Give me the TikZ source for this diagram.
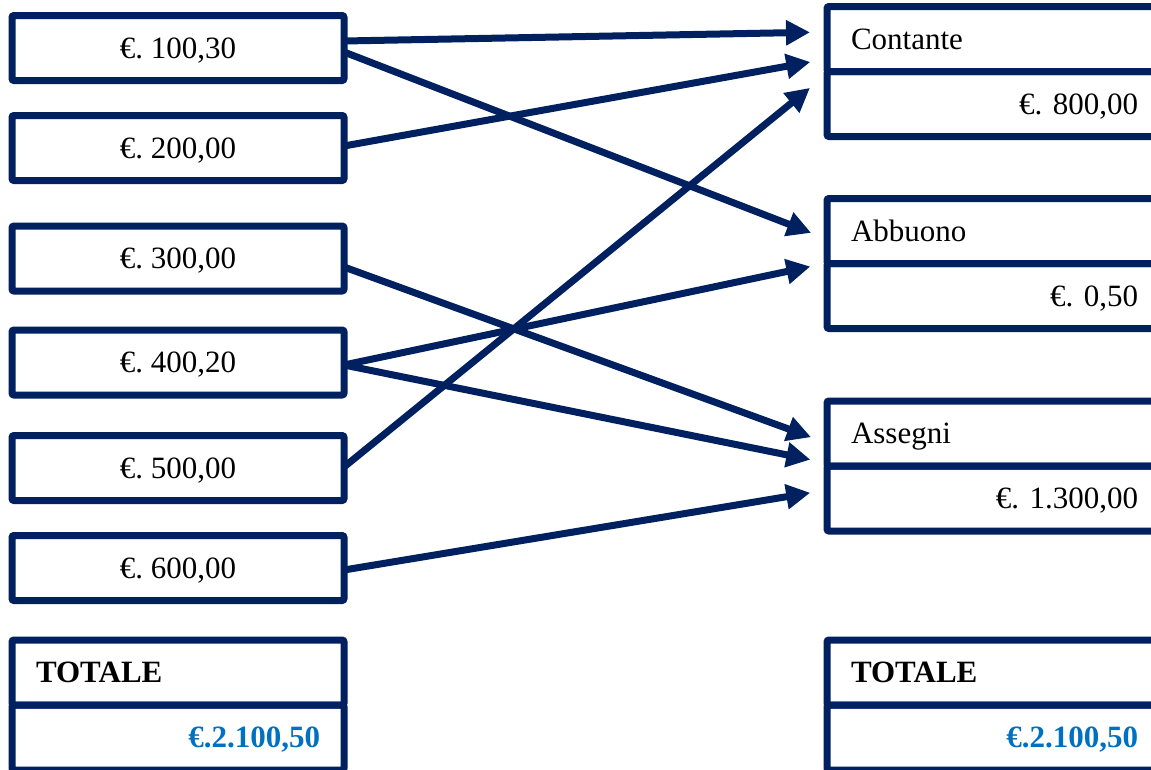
\documentclass[tikz,border=0pt]{standalone}
\usepackage{fontspec}
\setmainfont{Liberation Serif}
\usetikzlibrary{positioning,arrows.meta}
\definecolor{navy}{HTML}{002060}
\definecolor{sumblue}{HTML}{0070C0}
\frenchspacing

\tikzset{
    amount/.style={draw=navy, line width=7pt, rounded corners=2pt, outer sep=0pt,
        minimum width=332pt, minimum height=65pt, inner sep=0pt, text depth=0pt,
        font=\fontsize{31}{36}\selectfont},
    titlebox/.style={draw=navy, line width=7pt, rounded corners=2pt, outer sep=0pt,
        text width=#1, align=left, inner xsep=24pt, inner ysep=0pt, text depth=0pt,
        minimum height=65pt, font=\fontsize{31}{36}\selectfont},
    sumbox/.style={titlebox=#1, align=right},
    flow/.style={navy, line width=7pt, -{Triangle[length=24pt,width=24pt]}, shorten >=17pt},
}

\begin{document}
\begin{tikzpicture}[x=1pt,y=-1pt]

    \useasboundingbox (0,0) rectangle (1151,769);
    \clip (0,0) rectangle (1151,769);

    %left amounts
    \node[amount] (v1) at (178,48)    {€. 100,30};
    \node[amount] (v2) at (178,148)   {€. 200,00};
    \node[amount] (v3) at (178,258.5) {€. 300,00};
    \node[amount] (v4) at (178,362.5) {€. 400,20};
    \node[amount] (v5) at (178,468)   {€. 500,00};
    \node[amount] (v6) at (178,568)   {€. 600,00};

    %left total
    \node[titlebox=284pt, anchor=north west] (ltot) at (12,640) {\textbf{TOTALE}};
    \node[sumbox=284pt, below=0pt of ltot] (ltotv) {\textcolor{sumblue}{\textbf{€.2.100,50}}};

    %right accounts
    \node[titlebox=287pt, anchor=north west] (cont) at (827,6.5) {Contante};
    \node[sumbox=287pt, below=0pt of cont] (contv) {€. 800,00};

    \node[titlebox=287pt, anchor=north west] (abb) at (827,198.5) {Abbuono};
    \node[sumbox=287pt, below=0pt of abb] (abbv) {€. 0,50};

    \node[titlebox=287pt, anchor=north west] (ass) at (827,401) {Assegni};
    \node[sumbox=287pt, below=0pt of ass] (assv) {€. 1.300,00};

    %right total
    \node[titlebox=287pt, anchor=north west] (rtot) at (827,640) {\textbf{TOTALE}};
    \node[sumbox=287pt, below=0pt of rtot] (rtotv) {\textcolor{sumblue}{\textbf{€.2.100,50}}};

    %arrows
    \draw[flow] ([yshift=7pt]v1.east)    -- ([yshift=7pt]cont.west);
    \draw[flow] ([yshift=2pt]v2.east)    -- ([yshift=-20pt]cont.west);
    \draw[flow, shorten >=22pt] ([yshift=1pt]v5.east) -- ([yshift=30pt]contv.west);
    \draw[flow] ([yshift=-4pt]v1.east)   -- ([yshift=-8pt]abb.west);
    \draw[flow] ([yshift=-2.5pt]v4.east) -- ([yshift=-32pt]abb.west);
    \draw[flow] ([yshift=-8.5pt]v3.east) -- ([yshift=-9.5pt]ass.west);
    \draw[flow] ([yshift=-2.5pt]v4.east) -- ([yshift=-29.5pt]ass.west);
    \draw[flow] ([yshift=-2pt]v6.east)   -- ([yshift=8.5pt]assv.west);

\end{tikzpicture}
\end{document}
